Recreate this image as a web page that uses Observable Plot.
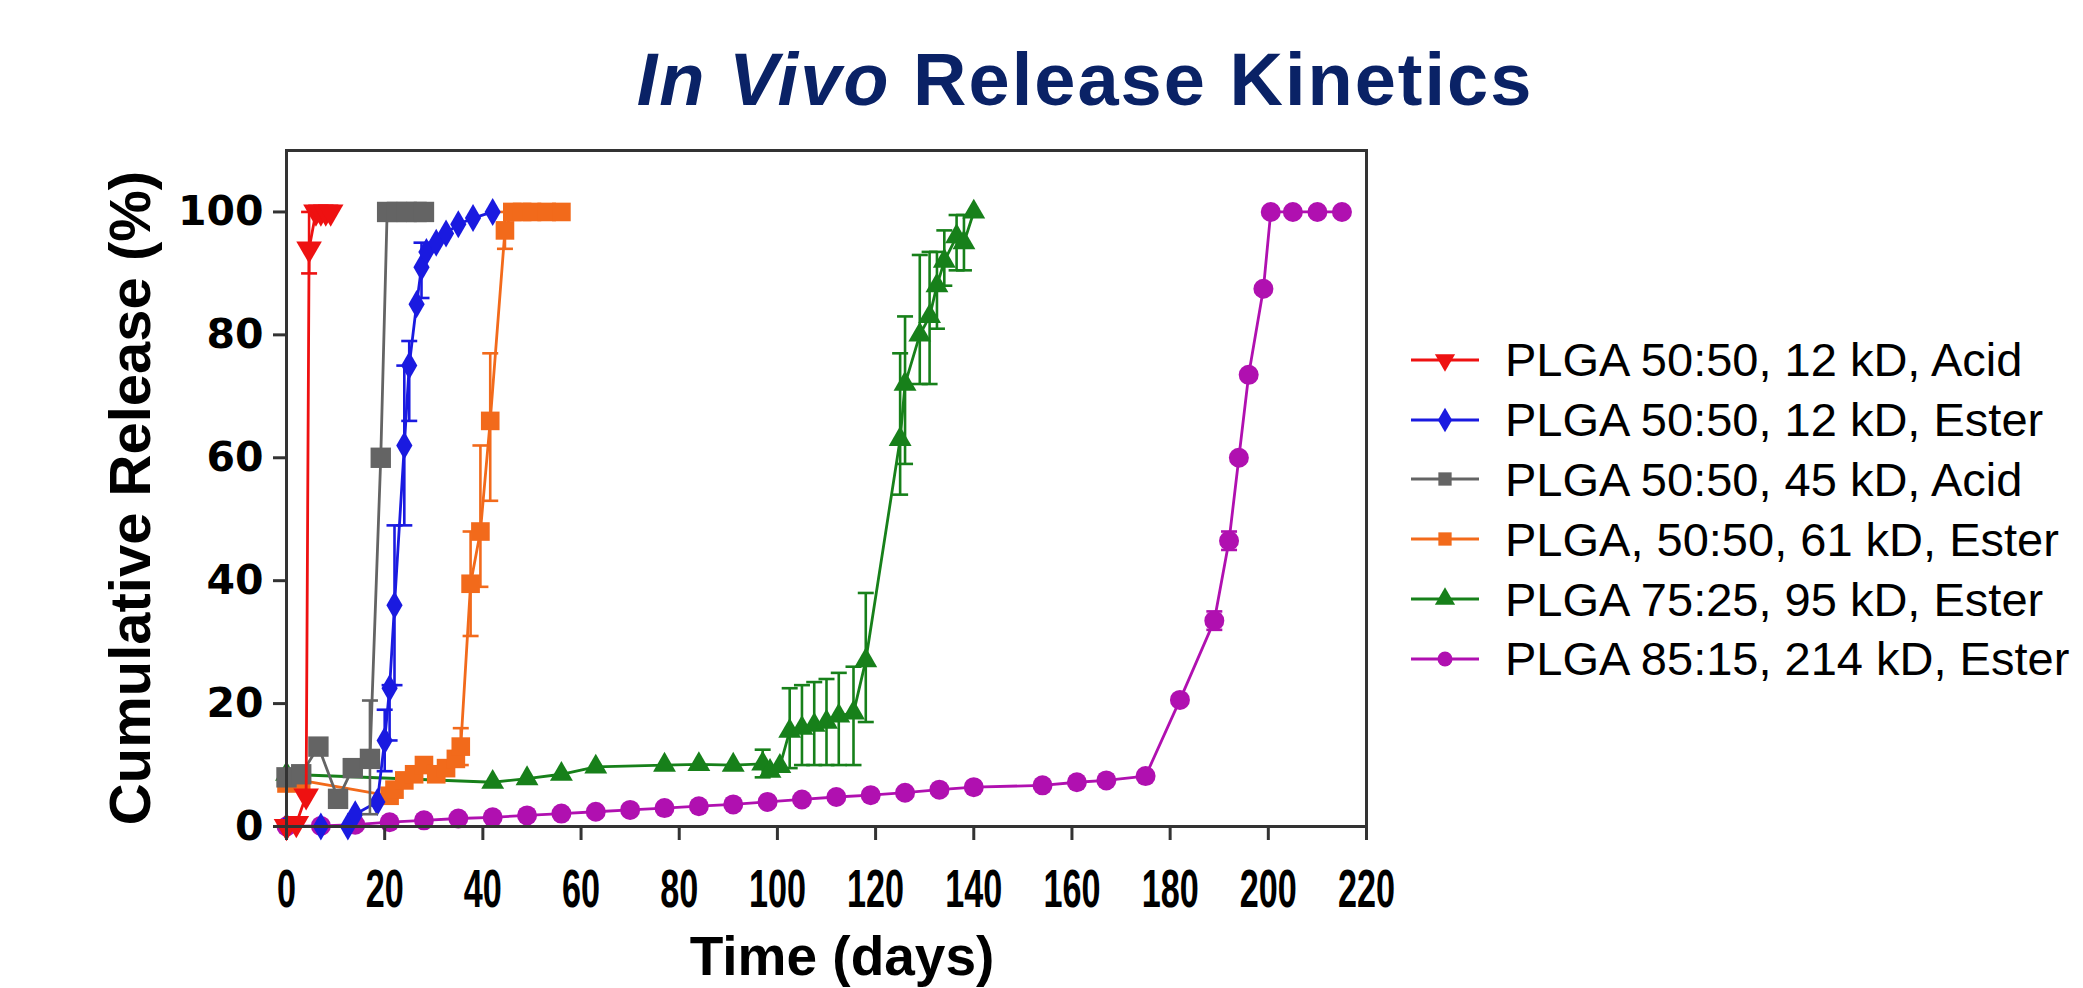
<!DOCTYPE html>
<html>
<head>
<meta charset="utf-8">
<script src="https://cdn.jsdelivr.net/npm/d3@7"></script>
<script src="https://cdn.jsdelivr.net/npm/@observablehq/plot@0.6"></script>
<style>
  html, body { margin: 0; padding: 0; background: #fff; }
  #wrap { position: relative; width: 2083px; height: 988px; overflow: hidden; font-family: "Liberation Sans", Arial, sans-serif; }
  #title { position: absolute; left: 1085px; top: 43px; transform: translateX(-50%); white-space: nowrap;
           font-size: 74px; line-height: 74px; font-weight: bold; color: #0a2266; letter-spacing: 2px; }
  #ytitle { position: absolute; left: 130px; top: 498px; width: 900px; text-align: center; white-space: nowrap;
            transform: translate(-50%, -50%) rotate(-90deg); font-size: 58px; line-height: 58px; font-weight: bold; color: #000; }
  #xtitle { position: absolute; left: 842px; top: 929px; transform: translateX(-50%); white-space: nowrap;
            font-size: 55px; line-height: 55px; font-weight: bold; color: #000; }
  #chart { position: absolute; left: 0; top: 130px; }
  #legend { position: absolute; left: 1405px; top: 330px; }
  .lrow { display: flex; align-items: center; height: 59.8px; }
  .lrow svg { flex: none; }
  .lrow span { margin-left: 20px; font-size: 47px; line-height: 47px; color: #000; white-space: nowrap; }
</style>
</head>
<body>
<div id="wrap">
  <div id="title"><i>In Vivo</i> Release Kinetics</div>
  <div id="ytitle">Cumulative Release (%)</div>
  <div id="xtitle">Time (days)</div>
  <div id="chart"></div>
  <div id="legend"></div>
</div>
<script>
// ---------- data ----------
const seriesNames = [
  "PLGA 50:50, 12 kD, Acid",
  "PLGA 50:50, 12 kD, Ester",
  "PLGA 50:50, 45 kD, Acid",
  "PLGA, 50:50, 61 kD, Ester",
  "PLGA 75:25, 95 kD, Ester",
  "PLGA 85:15, 214 kD, Ester"
];
const xTicks = [0, 20, 40, 60, 80, 100, 120, 140, 160, 180, 200, 220];
const yTicks = [0, 20, 40, 60, 80, 100];

const redDays = [0, 2, 4, 4.6, 6, 7, 8, 9];
const redRel  = [0, 0.5, 5, 94, 100, 100, 100, 100];
const redErrDays = [4.6];
const redErrLo   = [90];
const redErrHi   = [100];

const blueDays = [0, 7, 12.5, 14, 18.5, 20, 21, 22, 24, 25, 26.5, 27.5, 28.5, 30.5, 32.5, 35, 38, 42];
const blueRel  = [0, 0, 0, 2, 4, 14, 22.5, 36, 62, 75, 85, 91, 93.5, 95, 96.5, 98, 99, 100];
const blueErrDays = [20, 21, 22, 24, 25, 27.5];
const blueErrLo   = [9, 14, 23, 49, 66, 86];
const blueErrHi   = [19, 23, 49, 75, 79, 95];

const grayDays = [0, 3, 6.5, 10.5, 13.5, 17, 19.2, 20.5, 22.5, 24.5, 26.5, 28];
const grayRel  = [8, 8.5, 13, 4.5, 9.5, 11, 60, 100, 100, 100, 100, 100];
const grayErrDays = [17];
const grayErrLo   = [2];
const grayErrHi   = [20.5];

const orangeDays = [0, 3, 21, 22, 24, 26, 28, 30.5, 32.5, 34.5, 35.5, 37.5, 39.5, 41.5, 44.5, 46, 48, 50, 53, 56];
const orangeRel  = [7, 7.5, 5, 6, 7.5, 8.5, 10, 8.5, 9.5, 11, 13, 39.5, 48, 66, 97, 100, 100, 100, 100, 100];
const orangeErrDays = [35.5, 37.5, 39.5, 41.5, 44.5];
const orangeErrLo   = [10, 31, 39, 53, 94];
const orangeErrHi   = [16, 48, 62, 77, 100];

const greenDays = [0, 42, 49, 56, 63, 77, 84, 91, 97, 98.5, 100.5, 102.5, 105, 107.5, 110, 112.5, 115.5, 118, 125, 126, 129, 131, 132.5, 134, 136.5, 138, 140];
const greenRel  = [8.5, 7.2, 7.8, 8.5, 9.7, 10, 10.1, 10, 10.2, 9, 9.8, 15.5, 16, 16.5, 17, 18, 18.5, 27, 63, 72, 80, 83, 88, 92, 96, 95, 100];
const greenErrDays = [97, 102.5, 105, 107.5, 110, 112.5, 115.5, 118, 125, 126, 129, 131, 132.5, 134, 136.5, 138];
const greenErrLo   = [8, 9.5, 10, 10, 10, 10, 10, 17, 54, 59, 72, 72, 81, 88, 90.5, 90.5];
const greenErrHi   = [12.5, 22.5, 23, 23.5, 24, 25, 26, 38, 77, 83, 93, 93.5, 93.5, 97, 99.5, 99.5];

const purpleDays = [0, 7, 14, 21, 28, 35, 42, 49, 56, 63, 70, 77, 84, 91, 98, 105, 112, 119, 126, 133, 140, 154, 161, 167, 175, 182, 189, 192, 194, 196, 199, 200.5, 205, 210, 215];
const purpleRel  = [0, 0.1, 0.3, 0.7, 1.0, 1.3, 1.5, 1.8, 2.1, 2.4, 2.7, 3.0, 3.3, 3.6, 4.0, 4.4, 4.8, 5.1, 5.5, 6.0, 6.4, 6.7, 7.2, 7.5, 8.2, 20.6, 33.5, 46.5, 60, 73.5, 87.5, 100, 100, 100, 100];
const purpleErrDays = [189, 192];
const purpleErrLo   = [32, 45];
const purpleErrHi   = [35, 48];

// ---------- styling per series ----------
const series = [
  {name: seriesNames[0], color: "#ee1111", symbol: "triangle", rotate: 180, r: 9.5, days: redDays, rel: redRel, ed: redErrDays, lo: redErrLo, hi: redErrHi},
  {name: seriesNames[1], color: "#1a1ae0", symbol: "diamond", rotate: 0, r: 8.5, days: blueDays, rel: blueRel, ed: blueErrDays, lo: blueErrLo, hi: blueErrHi},
  {name: seriesNames[2], color: "#646464", symbol: "square", rotate: 0, r: 11.5, days: grayDays, rel: grayRel, ed: grayErrDays, lo: grayErrLo, hi: grayErrHi},
  {name: seriesNames[3], color: "#f26a1b", symbol: "square", rotate: 0, r: 10.5, days: orangeDays, rel: orangeRel, ed: orangeErrDays, lo: orangeErrLo, hi: orangeErrHi},
  {name: seriesNames[4], color: "#17801a", symbol: "triangle", rotate: 0, r: 8.5, days: greenDays, rel: greenRel, ed: greenErrDays, lo: greenErrLo, hi: greenErrHi},
  {name: seriesNames[5], color: "#b010b0", symbol: "circle", rotate: 0, r: 10, days: purpleDays, rel: purpleRel, ed: purpleErrDays, lo: purpleErrLo, hi: purpleErrHi}
];

const capSymbol = {
  draw(context, size) {
    const w = Math.sqrt(size / Math.PI);
    context.moveTo(-w, 0);
    context.lineTo(w, 0);
  }
};

// draw order (bottom to top)
const drawOrder = [5, 4, 3, 1, 2, 0];
const marks = [];
for (const i of drawOrder) {
  const s = series[i];
  const pts = s.days.map((d, k) => ({x: d, y: s.rel[k]}));
  const errs = s.ed.map((d, k) => ({x: d, lo: s.lo[k], hi: s.hi[k]}));
  const caps = errs.flatMap(e => [{x: e.x, y: e.lo}, {x: e.x, y: e.hi}]);
  marks.push(Plot.lineY(pts, {x: "x", y: "y", stroke: s.color, strokeWidth: 2.8}));
  marks.push(Plot.ruleX(errs, {x: "x", y1: "lo", y2: "hi", stroke: s.color, strokeWidth: 2.6}));
  marks.push(Plot.dot(caps, {x: "x", y: "y", symbol: capSymbol, r: 8, stroke: s.color, strokeWidth: 2.6, fill: "none"}));
  marks.push(Plot.dot(pts, {x: "x", y: "y", symbol: s.symbol, rotate: s.rotate, r: s.r, fill: s.color, stroke: "none"}));
}

const chart = Plot.plot({
  width: 1420,
  height: 858,
  marginLeft: 286,
  marginRight: 54,
  marginTop: 20,
  marginBottom: 162,
  style: {background: "transparent", fontFamily: "Liberation Sans, Arial, sans-serif", overflow: "visible"},
  x: {domain: [0, 220]},
  y: {domain: [0, 110]},
  marks: [
    ...marks,
    Plot.frame({stroke: "#333", strokeWidth: 3}),
    Plot.axisX({ticks: xTicks, tickFormat: d => String(d), tickSize: 14, tickPadding: 28, stroke: "#333", strokeWidth: 3,
                fontSize: 54, fontWeight: "bold", fontFamily: "Liberation Sans", fill: "#000", label: null}),
    Plot.axisY({ticks: yTicks, tickFormat: d => String(d), tickSize: 13, tickPadding: 10, stroke: "#333", strokeWidth: 3,
                fontSize: 41, fontWeight: "bold", fontFamily: "DejaVu Sans", fill: "#000", label: null})
  ]
});
document.getElementById("chart").appendChild(chart);

// condensed bottom tick labels
chart.querySelectorAll('g[aria-label="x-axis tick label"] text').forEach(t => {
  const n = t.textContent.length;
  t.setAttribute("textLength", n * 19);
  t.setAttribute("lengthAdjust", "spacingAndGlyphs");
});

// ---------- legend ----------
const legend = document.getElementById("legend");
for (const s of series) {
  const row = document.createElement("div");
  row.className = "lrow";
  const sw = d3.create("svg").attr("width", 80).attr("height", 40);
  sw.append("line").attr("x1", 6).attr("x2", 74).attr("y1", 20).attr("y2", 20)
    .attr("stroke", s.color).attr("stroke-width", 3);
  const symMap = {triangle: d3.symbolTriangle, diamond: d3.symbolDiamond, square: d3.symbolSquare, circle: d3.symbolCircle};
  sw.append("path").attr("d", d3.symbol(symMap[s.symbol], Math.PI * 7.5 * 7.5)())
    .attr("transform", `translate(40,20) rotate(${s.rotate})`).attr("fill", s.color);
  row.appendChild(sw.node());
  const label = document.createElement("span");
  label.textContent = s.name;
  row.appendChild(label);
  legend.appendChild(row);
}
</script>
</body>
</html>
